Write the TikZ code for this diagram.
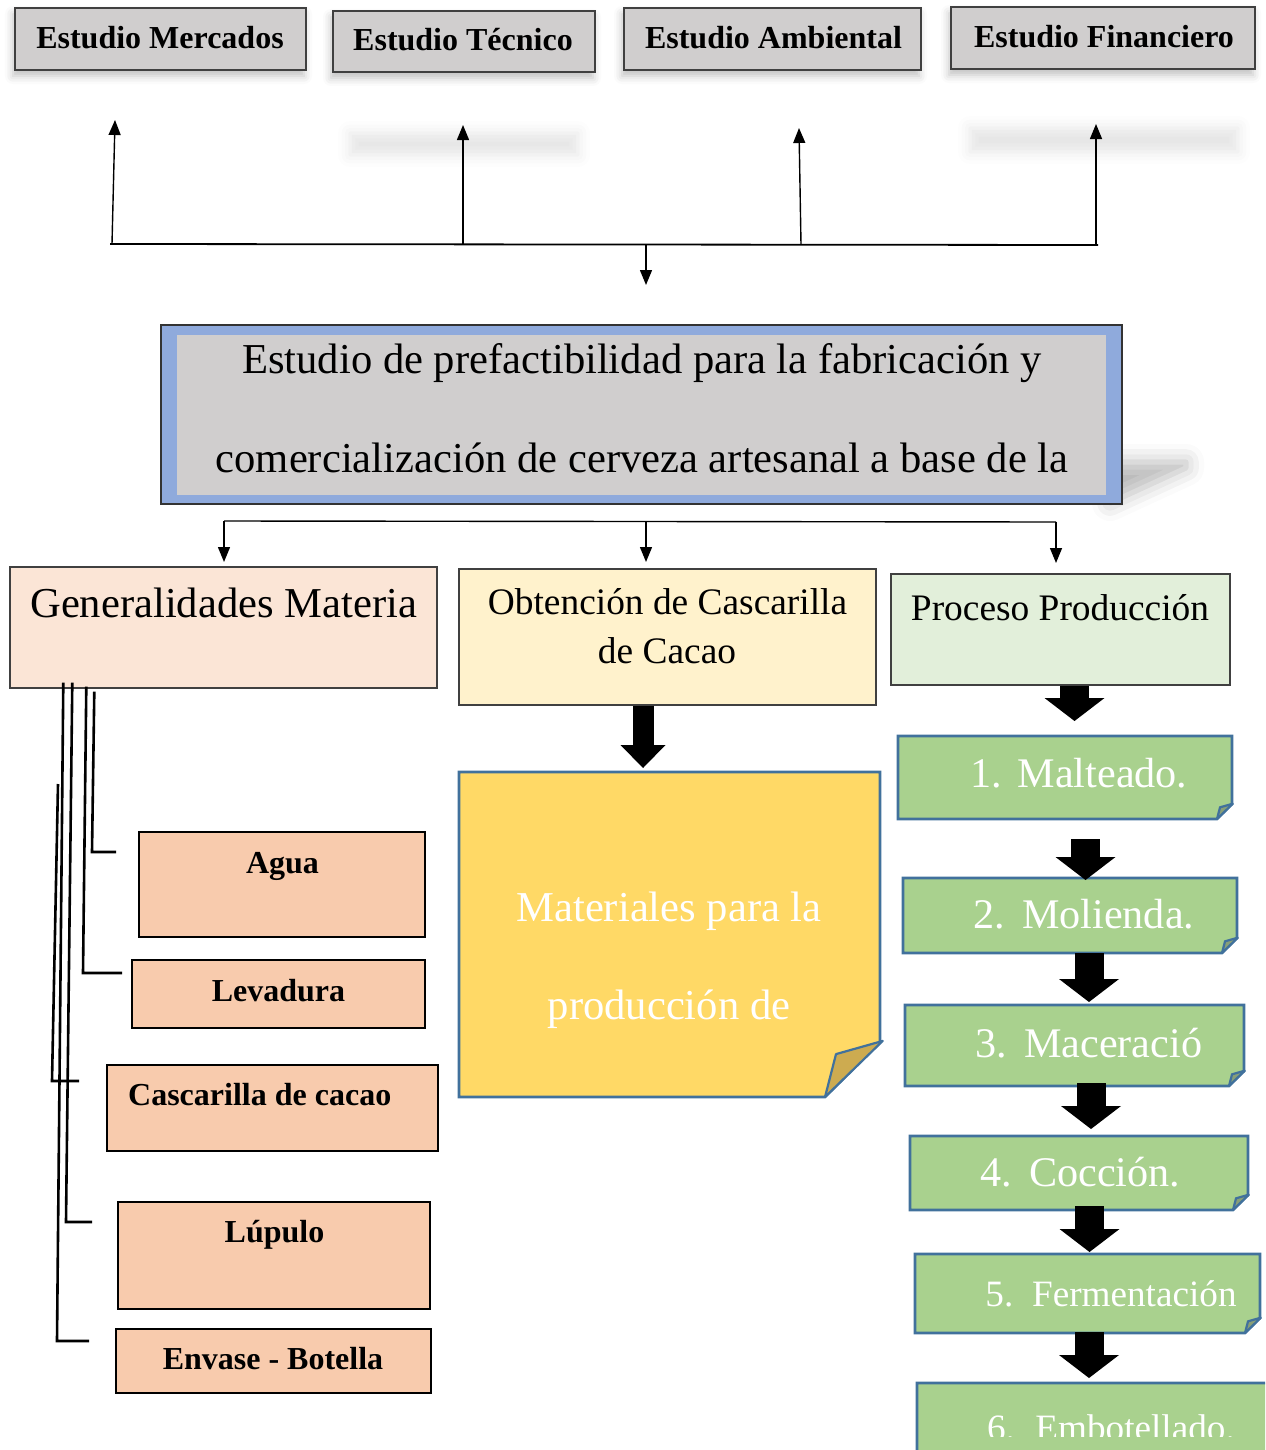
\documentclass[tikz,border=0pt]{standalone}
\usepackage{fontspec}
\setmainfont{Liberation Serif}
\usetikzlibrary{arrows.meta,fit,calc,shadows.blur}
\definecolor{boxgray}{HTML}{D0CECE}
\definecolor{mainblue}{HTML}{8FAADC}
\definecolor{genfill}{HTML}{FBE5D6}
\definecolor{obtfill}{HTML}{FFF2CC}
\definecolor{procfill}{HTML}{E2EFDA}
\definecolor{pinkfill}{HTML}{F8CBAD}
\definecolor{greenfill}{HTML}{A9D18E}
\definecolor{noteblue}{HTML}{41719C}
\definecolor{yellowfill}{HTML}{FFD966}
\definecolor{yellowflap}{HTML}{CDAB50}
\definecolor{greenflap}{HTML}{889F78}
\newcommand{\fsz}[1]{\fontsize{#1}{#1}\selectfont}
% x0 y0 x1 y1 fold fill flapfill
\newcommand{\foldshape}[7]{%
  \filldraw[fill=#6, draw=noteblue, line width=1.3pt, line join=miter]
    (#1,#2) -- (#3,#2) -- (#3,#4-#5) -- (#3-#5,#4) -- (#1,#4) -- cycle;
  \filldraw[fill=#7, draw=noteblue, line width=1.1pt, line join=round]
    (#3-#5,#4) -- (#3-0.8*#5,#4-0.78*#5) -- (#3+0.05*#5,#4-1.02*#5) -- cycle;
}
\tikzset{
  x=0.5pt, y=-0.5pt,
  box/.style={inner sep=0pt, line join=miter},
  topbox/.style={box, draw=black!75, line width=0.8pt, fill=boxgray,
    blur shadow={shadow xshift=-1pt, shadow yshift=-3pt, shadow blur radius=4pt, shadow opacity=25}},
  headbox/.style={box, draw=black!75, line width=0.7pt},
  pinkbox/.style={box, draw=black, line width=1.3pt, fill=pinkfill},
  toplbl/.style={inner sep=0pt, anchor=base, font=\bfseries\fsz{16pt}},
  mainlbl/.style={inner sep=0pt, anchor=base, font=\fsz{21.3pt}},
  midlbl/.style={inner sep=0pt, anchor=base, font=\fsz{18.7pt}},
  pinklbl/.style={inner sep=0pt, anchor=base, font=\bfseries\fsz{16pt}},
  whitelbl/.style={inner sep=0pt, anchor=base, font=\fsz{21.3pt}, text=white},
  steplbl/.style={inner sep=0pt, anchor=base west, font=\fsz{21.1pt}, text=white},
  smallsteplbl/.style={steplbl, font=\fsz{18.6pt}},
  conn/.style={draw=black, line width=0.7pt},
  thinarrow/.style={conn, -{Triangle[length=7.5pt,width=6pt]}},
  lconn/.style={draw=black, line width=1.3pt, line join=miter},
  barrowR/.style={draw=black, line width=14.5pt, -{Triangle[length=11.5pt,width=30pt,line width=0pt]}},
  barrowM/.style={draw=black, line width=10.5pt, -{Triangle[length=11.5pt,width=22.5pt,line width=0pt]}},
  faint/.style={blur shadow={shadow xshift=0pt, shadow yshift=0pt, shadow blur radius=6pt, shadow opacity=10}},
}
\begin{document}
\begin{tikzpicture}
\useasboundingbox (0,0) rectangle (1265,1450);
\clip (0,0) rectangle (1265,1450);

% faint shadow remnants
\path[faint] (350,133) rectangle (578,155);
\path[faint] (970,128) rectangle (1238,152);

% ---------- top boxes ----------
\node[topbox, fit={(15,8) (306,70)}] (mer) {};
\node[topbox, fit={(333,11) (595,72)}] (tec) {};
\node[topbox, fit={(624,8) (921,70)}] (amb) {};
\node[topbox, fit={(951,7) (1255,69)}] (fin) {};
\node[toplbl] (mert) at (160,49) {Estudio Mercados};
\node[toplbl] (tect) at (463,50.5) {Estudio Técnico};
\node[toplbl] (ambt) at (773.5,49) {Estudio Ambiental};
\node[toplbl] (fint) at (1104,47.7) {Estudio Financiero};

% ---------- top connectors ----------
\coordinate (hubL) at (110,244);
\coordinate (hubR) at (1098,245);
\coordinate (u1b) at (112,244);  \coordinate (u1t) at (115,120);
\coordinate (u2b) at (463,244);  \coordinate (u2t) at (463,125);
\coordinate (u3b) at (801,244.5);\coordinate (u3t) at (799,128);
\coordinate (u4b) at (1096,245); \coordinate (u4t) at (1096,124);
\coordinate (dnb) at (646,244.5);\coordinate (dnt) at (646,285);
\draw[conn, line width=0.9pt] (hubL) -- (hubR);
\draw[thinarrow] (u1b) -- (u1t);
\draw[thinarrow] (u2b) -- (u2t);
\draw[thinarrow] (u3b) -- (u3t);
\draw[thinarrow] (u4b) -- (u4t);
\draw[thinarrow] (dnb) -- (dnt);

% ---------- main box ----------
\path[blur shadow={shadow xshift=0pt, shadow yshift=0pt, shadow blur radius=9pt, shadow opacity=28}]
  (1110,462) -- (1186,462) -- (1186,468) -- (1110,503) -- cycle;
\node[box, fill=mainblue, draw=black!80, line width=0.6pt, fit={(161,325) (1122,504)}] (main) {};
\node[box, fill=boxgray, fit={(177,335) (1106,495)}] (maininner) {};
\node[mainlbl] (m1) at (642,373) {Estudio de prefactibilidad para la fabricación y};
\node[mainlbl] (m2) at (642,472) {comercialización de cerveza artesanal a base de la};

% ---------- branch connectors ----------
\coordinate (bL) at (224,521);
\coordinate (bM) at (646,521.5);
\coordinate (bR) at (1056,522);
\coordinate (tL) at (224,562);
\coordinate (tM) at (646,562);
\coordinate (tR) at (1056,563);
\draw[conn] (bL) -- (bR);
\draw[thinarrow] (bL) -- (tL);
\draw[thinarrow] (bM) -- (tM);
\draw[thinarrow] (bR) -- (tR);

% ---------- column heads ----------
\node[headbox, fill=genfill, fit={(10,567) (437,688)}] (gen) {};
\node[headbox, fill=obtfill, fit={(459,569) (876,705)}] (obt) {};
\node[headbox, fill=procfill, fit={(891,574) (1230,685)}] (proc) {};
\node[mainlbl] (gent) at (223.7,617) {Generalidades Materia};
\node[midlbl] (obt1) at (667.5,614) {Obtención de Cascarilla};
\node[midlbl] (obt2) at (667,663) {de Cacao};
\node[midlbl] (proct) at (1060,620) {Proceso Producción};

% ---------- yellow note ----------
\foldshape{459}{772}{880}{1097}{55}{yellowfill}{yellowflap}
\node[box, fit={(459,772) (880,1097)}] (note) {};
\node[whitelbl] (n1) at (669,921) {Materiales para la};
\node[whitelbl] (n2) at (669,1019.5) {producción de};
\coordinate (mtip) at (643,768);
\draw[barrowM] (obt.south -| mtip) -- (mtip);

% ---------- pink boxes ----------
\node[pinkbox, fit={(139,832) (425,937)}] (agua) {};
\node[pinkbox, fit={(132,960) (425,1028)}] (lev) {};
\node[pinkbox, fit={(107,1065) (438,1151)}] (cas) {};
\node[pinkbox, fit={(118,1202) (430,1309)}] (lup) {};
\node[pinkbox, fit={(116,1329) (431,1393)}] (env) {};
\node[pinklbl] (aguat) at (282.5,873) {Agua};
\node[pinklbl] (levt) at (278.5,1001.7) {Levadura};
\node[pinklbl] (cast) at (259.7,1105) {Cascarilla de cacao};
\node[pinklbl] (lupt) at (274.5,1242.7) {Lúpulo};
\node[pinklbl] (envt) at (273,1369.3) {Envase - Botella};

% ---------- left connectors ----------
\coordinate (cA) at (92,852);   \coordinate (eA) at (116,852);
\coordinate (cL) at (83,973);   \coordinate (eL) at (122,973);
\coordinate (sC) at (58,784);   \coordinate (cC) at (52,1081); \coordinate (eC) at (79,1081);
\coordinate (cP) at (66,1222);  \coordinate (eP) at (92,1222);
\coordinate (cE) at (57,1341);  \coordinate (eE) at (89,1341);
\draw[lconn] ($(gen.south west)+(85,3)$) -- (cA) -- (eA);
\draw[lconn] ($(gen.south west)+(77,-2)$) -- (cL) -- (eL);
\draw[lconn] (sC) -- (cC) -- (eC);
\draw[lconn] ($(gen.south west)+(63,-6)$) -- (cP) -- (eP);
\draw[lconn] ($(gen.south west)+(54,-6)$) -- (cE) -- (eE);

% ---------- green steps ----------
\foldshape{898}{736}{1232}{819}{15}{greenfill}{greenflap}
\foldshape{903}{878}{1237}{953}{15}{greenfill}{greenflap}
\foldshape{905}{1005}{1244}{1086}{15}{greenfill}{greenflap}
\foldshape{910}{1136}{1248}{1210}{15}{greenfill}{greenflap}
\foldshape{915}{1254}{1260}{1333}{15}{greenfill}{greenflap}
\foldshape{917}{1383}{1290}{1480}{15}{greenfill}{greenflap}
\node[box, fit={(898,736) (1232,819)}] (s1) {};
\node[box, fit={(903,878) (1237,953)}] (s2) {};
\node[box, fit={(905,1005) (1244,1086)}] (s3) {};
\node[box, fit={(910,1136) (1248,1210)}] (s4) {};
\node[box, fit={(915,1254) (1260,1333)}] (s5) {};
\node[box, fit={(917,1383) (1290,1480)}] (s6) {};
\node[steplbl] (s1t) at (970,787) {1.\hspace{7.75pt}Malteado.};
\node[steplbl] (s2t) at (973,928) {2.\hspace{8.5pt}Molienda.};
\node[steplbl] (s3t) at (975,1057) {3.\hspace{8.5pt}Maceració};
\node[steplbl] (s4t) at (980,1186.7) {4.\hspace{8.5pt}Cocción.};
\node[smallsteplbl] (s5t) at (985,1306.7) {5.\hspace{9.4pt}Fermentación};
\begin{scope}
  \clip (917,1383) rectangle (1265,1436);
  \node[smallsteplbl] (s6t) at (986.7,1440) {6.\hspace{10.2pt}Embotellado.};
\end{scope}

% ---------- block arrows ----------
\coordinate (a1) at (1074.5,721);
\coordinate (a2s) at (1085.5,839);
\coordinate (a2) at (1085.5,880);
\coordinate (a3) at (1089,1002);
\coordinate (a4) at (1091,1129);
\coordinate (a5) at (1089.5,1252);
\coordinate (a6) at (1089,1378);
\draw[barrowR] (proc.south -| a1) -- (a1);
\draw[barrowR] (a2s) -- (a2);
\draw[barrowR] (s2.south -| a3) -- (a3);
\draw[barrowR] ($(s3.south -| a4)+(0,-3)$) -- (a4);
\draw[barrowR] ($(s4.south -| a5)+(0,-4)$) -- (a5);
\draw[barrowR] ($(s5.south -| a6)+(0,-1)$) -- (a6);
\end{tikzpicture}
\end{document}
